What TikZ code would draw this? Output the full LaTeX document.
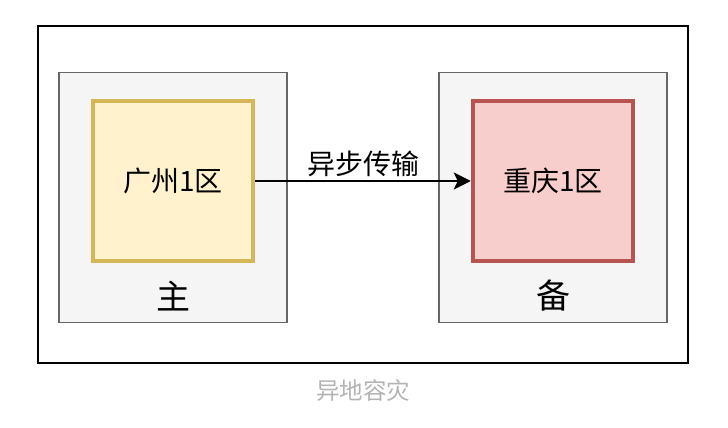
\documentclass[tikz,border=0pt]{standalone}
\usepackage{fontspec}
\setmainfont{Noto Sans CJK SC}
\usetikzlibrary{arrows.meta,positioning}
\definecolor{zonefill}{HTML}{FFF2CC}
\definecolor{zoneline}{HTML}{D6B656}
\definecolor{bakfill}{HTML}{F8CECC}
\definecolor{bakline}{HTML}{B85450}
\definecolor{sitefill}{HTML}{F5F5F5}
\definecolor{siteline}{HTML}{666666}
\definecolor{captiongray}{HTML}{B3B3B3}
\begin{document}
\begin{tikzpicture}[x=1pt, y=-1pt,
   every node/.style={font=\fontsize{28}{30}\selectfont},
   site/.style={draw=siteline, fill=sitefill, line width=1.5pt},
   zone/.style={minimum width=160pt, minimum height=160pt, line width=4.5pt, inner sep=0pt},
   tag/.style={font=\fontsize{34}{36}\selectfont}]
\useasboundingbox (0,0) rectangle (728,428);
\draw[line width=2pt] (37.5,26.5) rectangle (688,362.5);
\draw[site] (59,72.5) rectangle (287,322.5);
\draw[site] (439,72.5) rectangle (667,322.5);
\node[zone, draw=zoneline, fill=zonefill] (gz) at (173,181) {广州1区};
\node[zone, draw=bakline, fill=bakfill] (cq) at (553,181) {重庆1区};
\node[tag] (main) at (173,296) {主};
\node[tag] (backup) at (553,296) {备};
\draw[-{Stealth[length=17pt,width=17pt,inset=4pt]}, line width=2pt] (gz) -- node[above=0pt] {异步传输} (cq);
\node[font=\fontsize{23.5}{26}\selectfont, text=captiongray] (title) at (363,391) {异地容灾};
\end{tikzpicture}
\end{document}
